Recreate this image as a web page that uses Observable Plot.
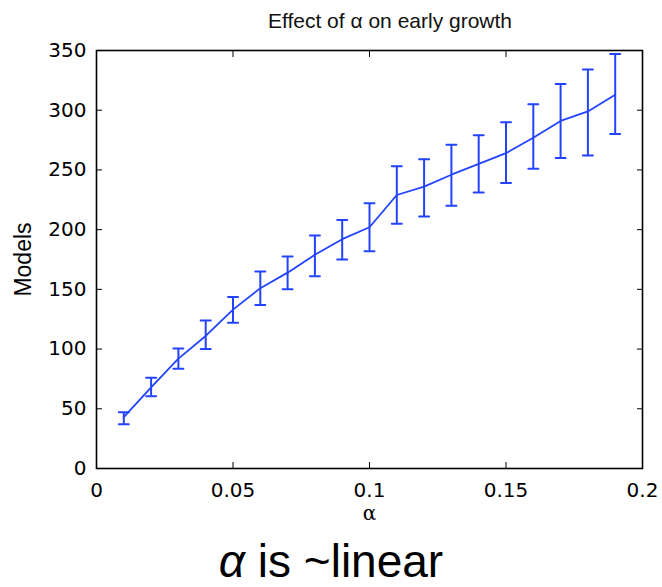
<!DOCTYPE html>
<html>
<head>
<meta charset="utf-8">
<script src="https://cdn.jsdelivr.net/npm/d3@7"></script>
<script src="https://cdn.jsdelivr.net/npm/@observablehq/plot@0.6"></script>
<style>
  html, body { margin: 0; padding: 0; background: #fff; width: 662px; height: 587px; overflow: hidden; }
  #title { height: 30px; box-sizing: border-box; padding-top: 1px; padding-left: 118px; line-height: 40px;
           text-align: center; font-family: "Liberation Sans", Arial, sans-serif; font-size: 21px; color: #111; overflow: visible; }
  #chart svg { display: block; overflow: visible; }
  #caption { height: 57px; box-sizing: border-box; padding-top: 5px; line-height: 52px; text-align: center;
             font-family: "Liberation Sans", Arial, sans-serif; font-size: 46px; color: #000; white-space: nowrap; }
</style>
</head>
<body>
<div id="title">Effect of α on early growth</div>
<div id="chart"></div>
<div id="caption"><i>α</i> is ~linear</div>
<script>
const alpha = [0.01, 0.02, 0.03, 0.04, 0.05, 0.06, 0.07, 0.08, 0.09, 0.10,
               0.11, 0.12, 0.13, 0.14, 0.15, 0.16, 0.17, 0.18, 0.19];
const models = [43, 68, 92, 111, 133, 151, 164, 179, 192, 202,
                229, 236, 246, 255, 264, 277, 291, 299, 313];
const lower = [37, 60.5, 83.5, 100, 122, 137, 150, 161, 175, 182,
               205, 211, 220, 231, 239, 251, 260, 262, 280];
const upper = [47, 76, 100.5, 124, 143.5, 165, 177.5, 195, 208, 222,
               253, 259, 271, 279, 290, 305, 322, 334, 347];
const xTicks = [0, 0.05, 0.1, 0.15, 0.2];
const yTicks = [0, 50, 100, 150, 200, 250, 300, 350];
const xLabel = "α";
const yLabel = "Models";

const data = alpha.map((a, i) => ({a, m: models[i], lo: lower[i], hi: upper[i]}));
const blue = "#2443ff";
const cap = {draw(context, l) { context.moveTo(0, 0); context.lineTo(0, -l); }};

const plot = Plot.plot({
  width: 662,
  height: 500,
  marginTop: 20,
  marginBottom: 62,
  marginLeft: 96,
  marginRight: 20,
  style: {fontFamily: "'DejaVu Sans', sans-serif", fontSize: "20px", color: "#000", background: "transparent", overflow: "visible"},
  x: {domain: [0, 0.2]},
  y: {domain: [0, 350]},
  marks: [
    Plot.axisX(xTicks, {anchor: "bottom", tickSize: 0, tickPadding: 14, tickFormat: d => String(d), label: null}),
    Plot.axisX(xTicks, {anchor: "bottom", tickSize: -6, tickFormat: () => "", label: null}),
    Plot.axisX(xTicks, {anchor: "top", tickSize: -6, tickFormat: () => "", label: null}),
    Plot.axisY(yTicks, {anchor: "left", tickSize: 0, tickPadding: 10, tickFormat: d => String(d), label: null}),
    Plot.axisY(yTicks, {anchor: "left", tickSize: -6, tickFormat: () => "", label: null}),
    Plot.axisY(yTicks, {anchor: "right", tickSize: -6, tickFormat: () => "", label: null}),
    Plot.text([xLabel], {frameAnchor: "bottom", dy: 51, text: d => d, fontFamily: "'DejaVu Serif', serif", fontSize: 20, fill: "#000"}),
    Plot.text([yLabel], {frameAnchor: "left", dx: -73, rotate: -90, textAnchor: "middle", lineAnchor: "middle", text: d => d, fontFamily: "'Liberation Sans', Arial, sans-serif", fontSize: 23, fill: "#000"}),
    Plot.frame({stroke: "#000", strokeWidth: 1.6}),
    Plot.ruleX(data, {x: "a", y1: "lo", y2: "hi", stroke: blue, strokeWidth: 2}),
    Plot.vector(data, {x: "a", y: "lo", length: 10, rotate: 90, anchor: "middle", shape: cap, stroke: blue, strokeWidth: 2}),
    Plot.vector(data, {x: "a", y: "hi", length: 10, rotate: 90, anchor: "middle", shape: cap, stroke: blue, strokeWidth: 2}),
    Plot.line(data, {x: "a", y: "m", stroke: blue, strokeWidth: 1.8})
  ]
});
document.getElementById("chart").appendChild(plot);
</script>
</body>
</html>
